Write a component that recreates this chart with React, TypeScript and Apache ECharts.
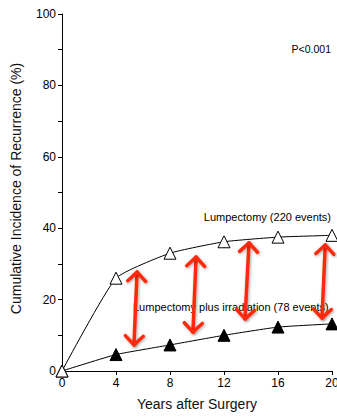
import React, { useEffect, useRef } from "react";
import * as echarts from "echarts";

const years = [0, 4, 8, 12, 16, 20];
const lumpectomy = [0, 26, 33, 36.2, 37.5, 38];
const lumpectomyIrradiation = [0, 4.6, 7.3, 10, 12.3, 13.2];
// double-headed arrows: [xTop, yTop, xBottom, yBottom] in data units
const arrows = [
  [5.56, 27.7, 5.33, 7.3],
  [9.93, 31.9, 9.7, 10.9],
  [13.85, 35.9, 13.56, 14.6],
  [19.5, 35.3, 19.26, 14.8],
];
const xTicks = [0, 4, 8, 12, 16, 20];
const yTicks = [0, 20, 40, 60, 80, 100];

const FONT = "'Liberation Sans', Arial, Helvetica, sans-serif";

export default function App() {
  const ref = useRef<HTMLDivElement>(null);
  useEffect(() => {
    document.body.style.margin = "0";
    const chart = echarts.init(ref.current!, null, { renderer: "svg" });
    const option: any = {
      animation: false,
      backgroundColor: "#ffffff",
      textStyle: { fontFamily: FONT },
      grid: { left: 62, right: 5, top: 14, bottom: 47, containLabel: false, outerBoundsMode: "none" },
      xAxis: {
        type: "value",
        min: xTicks[0],
        max: xTicks[xTicks.length - 1],
        interval: 4,
        name: "Years after Surgery",
        nameLocation: "middle",
        nameGap: 26,
        nameTextStyle: { fontSize: 14, color: "#111", fontFamily: FONT },
        axisLine: { show: true, onZero: false, lineStyle: { color: "#000", width: 1 } },
        axisTick: { show: true, length: 4, lineStyle: { color: "#000" } },
        axisLabel: { fontSize: 12, color: "#000", margin: 6, fontFamily: FONT },
        splitLine: { show: false },
      },
      yAxis: {
        type: "value",
        min: yTicks[0],
        max: yTicks[yTicks.length - 1],
        interval: 20,
        name: "Cumulative Incidence of Recurrence (%)",
        nameLocation: "middle",
        nameGap: 39,
        nameTextStyle: { fontSize: 14, color: "#111", fontFamily: FONT, padding: [0, 0, 0, 8] },
        axisLine: { show: true, lineStyle: { color: "#000", width: 1 } },
        axisTick: { show: true, length: 4, lineStyle: { color: "#000" } },
        minorTick: { show: true, splitNumber: 2, length: 4, lineStyle: { color: "#000" } },
        axisLabel: { fontSize: 12, color: "#000", margin: 6, fontFamily: FONT },
        splitLine: { show: false },
      },
      graphic: [
        {
          type: "text",
          z: 1,
          right: 6,
          top: 43,
          style: { text: "P<0.001", fontSize: 10.5, fill: "#000", fontFamily: FONT },
        },
        {
          type: "text",
          z: 1,
          right: 6,
          top: 211,
          style: { text: "Lumpectomy (220 events)", fontSize: 11, fill: "#000", fontFamily: FONT },
        },
        {
          type: "text",
          z: 1,
          left: 133,
          top: 301,
          style: {
            text: "Lumpectomy plus irradiation (78 events)",
            fontSize: 11,
            fill: "#000",
            fontFamily: FONT,
          },
        },
      ],
      series: [
        {
          type: "line",
          name: "Lumpectomy plus irradiation",
          data: years.map((x, i) => [x, lumpectomyIrradiation[i]]),
          smooth: 0.15,
          symbol: "triangle",
          symbolSize: 12,
          lineStyle: { color: "#000", width: 1 },
          itemStyle: { color: "#000", borderColor: "#000", borderWidth: 1 },
          z: 3,
        },
        {
          type: "line",
          name: "Lumpectomy",
          data: years.map((x, i) => [x, lumpectomy[i]]),
          smooth: 0.15,
          symbol: "triangle",
          symbolSize: 12,
          lineStyle: { color: "#000", width: 1 },
          itemStyle: { color: "#fff", borderColor: "#000", borderWidth: 1 },
          z: 4,
        },
        {
          type: "custom",
          z: 10,
          data: arrows,
          encode: { x: [0, 2], y: [1, 3] },
          renderItem: (params: any, api: any) => {
            const p1 = api.coord([api.value(0), api.value(1)]);
            const p2 = api.coord([api.value(2), api.value(3)]);
            const dx = p1[0] - p2[0];
            const dy = p1[1] - p2[1];
            const len = Math.sqrt(dx * dx + dy * dy);
            const ux = dx / len;
            const uy = dy / len;
            const nx = -uy;
            const ny = ux;
            const L = 9;
            const W = 9;
            const style = {
              stroke: "#ff2a0a",
              lineWidth: 3.5,
              lineCap: "round",
              lineJoin: "round",
              fill: null,
              shadowBlur: 3,
              shadowColor: "rgba(0,0,0,0.35)",
              shadowOffsetX: 1,
              shadowOffsetY: 1,
            };
            return {
              type: "group",
              children: [
                {
                  type: "line",
                  shape: { x1: p1[0], y1: p1[1], x2: p2[0], y2: p2[1] },
                  style,
                },
                {
                  type: "polyline",
                  shape: {
                    points: [
                      [p1[0] - ux * L + nx * W, p1[1] - uy * L + ny * W],
                      [p1[0], p1[1]],
                      [p1[0] - ux * L - nx * W, p1[1] - uy * L - ny * W],
                    ],
                  },
                  style,
                },
                {
                  type: "polyline",
                  shape: {
                    points: [
                      [p2[0] + ux * L + nx * W, p2[1] + uy * L + ny * W],
                      [p2[0], p2[1]],
                      [p2[0] + ux * L - nx * W, p2[1] + uy * L - ny * W],
                    ],
                  },
                  style,
                },
              ],
            };
          },
        },
      ],
    };
    chart.setOption(option);
    return () => chart.dispose();
  }, []);
  return <div ref={ref} style={{ width: 337, height: 418 }} />;
}
